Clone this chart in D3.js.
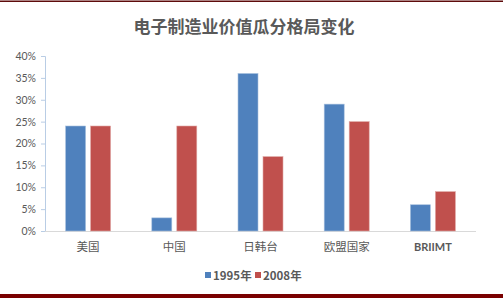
<!DOCTYPE html>
<html>
<head>
<meta charset="utf-8">
<script src="https://cdn.jsdelivr.net/npm/d3@7"></script>
<style>
  body { margin: 0; background: #fff; }
  svg text { font-family: Lato, "Noto Sans CJK SC", sans-serif; }
</style>
</head>
<body>
<div id="chart"></div>
<script>
const categories = ['美国', '中国', '日韩台', '欧盟国家', 'BRIIMT'];
const seriesNames = ['1995年', '2008年'];
const values1995 = [24, 3, 36, 29, 6];
const values2008 = [24, 24, 17, 25, 9];
const yTicks = [0, 5, 10, 15, 20, 25, 30, 35, 40];
const colors = ['#4F81BD', '#C0504D'];

const largura = 503, altura = 298;
const svg = d3.select('#chart')
    .append('svg')
    .attr('width', largura)
    .attr('height', altura);

// bordas
svg.append('rect').attr('x', 0).attr('y', 0.5).attr('width', largura).attr('height', 1.5).attr('fill', '#5e0b0b');
svg.append('rect').attr('x', 0).attr('y', 294).attr('width', largura).attr('height', 4).attr('fill', '#7a0000');

svg.append('text')
    .attr('x', 244).attr('y', 33)
    .attr('text-anchor', 'middle')
    .attr('font-size', 17).attr('font-weight', 'bold')
    .attr('fill', '#595959')
    .style('font-family', '"Noto Sans CJK SC", sans-serif')
    .text('电子制造业价值瓜分格局变化');

const x = d3.scaleBand().domain(categories).range([45, 476]);
const y = d3.scaleLinear().domain([0, 40]).range([231, 56]);

// eixo y
const yAxis = svg.append('g')
    .attr('transform', 'translate(45,0)')
    .call(d3.axisLeft(y).tickValues(yTicks).tickSize(4).tickPadding(5).tickFormat(d => d + '%'));
yAxis.select('.domain').attr('stroke', '#b9cde5');
yAxis.selectAll('.tick line').attr('stroke', '#b9cde5');
yAxis.selectAll('.tick text').attr('fill', '#595959').attr('font-size', 10.5);

// eixo x
svg.append('line')
    .attr('x1', 45).attr('x2', 476)
    .attr('y1', y(0) + 0.5).attr('y2', y(0) + 0.5)
    .attr('stroke', '#d9d9d9');

const barW = 20, gap = 5;
const series = [values1995, values2008];
series.forEach((vals, i) => {
    svg.append('g')
        .selectAll('rect')
        .data(vals)
        .enter()
        .append('rect')
        .attr('x', (d, j) => x(categories[j]) + x.bandwidth() / 2 - barW - gap / 2 + i * (barW + gap))
        .attr('y', d => y(d))
        .attr('width', barW)
        .attr('height', d => y(0) - y(d))
        .attr('fill', colors[i])
        .attr('stroke', i === 0 ? '#a7c0de' : '#e0a8a6')
        .attr('stroke-width', 0.6);
});

svg.append('g')
    .selectAll('text')
    .data(categories)
    .enter()
    .append('text')
    .attr('x', d => x(d) + x.bandwidth() / 2)
    .attr('y', 251)
    .attr('text-anchor', 'middle')
    .attr('fill', '#595959')
    .style('font-family', d => d === 'BRIIMT' ? 'Lato, sans-serif' : '"Noto Sans CJK SC", sans-serif')
    .attr('font-size', d => d === 'BRIIMT' ? 11 : 11.5)
    .attr('font-weight', d => d === 'BRIIMT' ? 'bold' : 'normal')
    .text(d => d);

// legenda
const legendX = [205, 255];
seriesNames.forEach((nome, i) => {
    const g = svg.append('g').attr('transform', `translate(${legendX[i]},0)`);
    g.append('rect').attr('x', 0).attr('y', 272).attr('width', 6).attr('height', 6).attr('fill', colors[i]);
    g.append('text')
        .attr('x', 8).attr('y', 280)
        .attr('font-size', 11.5).attr('fill', '#595959')
        .attr('font-weight', 'bold')
        .style('font-family', '"Noto Sans CJK SC", sans-serif')
        .text(nome);
});
</script>
</body>
</html>
